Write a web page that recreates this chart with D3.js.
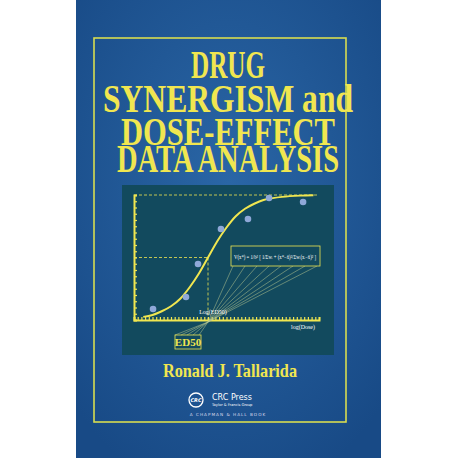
<!DOCTYPE html><html><head><meta charset="utf-8"><script src="https://cdn.jsdelivr.net/npm/d3@7"></script>
<style>body{margin:0;background:#fff}</style></head><body><svg id="s" width="458" height="458"></svg><script>
const titleLines=["DRUG","SYNERGISM and","DOSE-EFFECT","DATA ANALYSIS"];
const pointsX=[1.03,2.81,3.46,4.70,6.16,7.30,9.14];
const pointsY=[8.8,18.4,44.8,72.8,80.8,97.6,94.4];
const curveX=[0.5,1,1.5,2,2.5,3,3.5,4,4.5,5,5.5,6,6.5,7,7.5,8,9,9.7];
const curveY=[2.5,4,7,11,17,26,37,50,63,74,83,89,93,96,97.5,98.5,99.5,99.8];
const ed50=4.0;
const svg=d3.select("#s");
const defs=svg.append("defs");
const g=defs.append("radialGradient").attr("id","bg").attr("cx","50%").attr("cy","40%").attr("r","70%");
g.append("stop").attr("offset","0").attr("stop-color","#2a66a6");
g.append("stop").attr("offset","1").attr("stop-color","#184a86");
svg.append("rect").attr("x",76).attr("y",0).attr("width",305).attr("height",458).attr("fill","url(#bg)");
const Y="#f0e650";
svg.append("rect").attr("x",94).attr("y",38).attr("width",252).attr("height",384).attr("fill","none").attr("stroke","#d8dc50").attr("stroke-width",1.6);
const ty=[78,112,145,172],tw=[74,250,214,222];
titleLines.forEach((t,i)=>svg.append("text").attr("transform",`translate(228,${ty[i]}) scale(1,1.3)`).attr("text-anchor","middle").attr("font-family","Liberation Serif").attr("font-weight","bold").attr("font-size",30).attr("fill",Y).attr("textLength",tw[i]).attr("lengthAdjust","spacingAndGlyphs").text(t));
svg.append("rect").attr("x",122).attr("y",185).attr("width",212).attr("height",170).attr("fill","#124a5e");
const x=d3.scaleLinear().domain([0,10]).range([134,319]);
const y=d3.scaleLinear().domain([0,100]).range([320,195]);
svg.append("g").attr("transform","translate(0,320)").call(d3.axisBottom(x).ticks(40).tickSize(-3).tickFormat("")).call(a=>{a.selectAll("line,path").attr("stroke",Y).attr("stroke-width",1.2);a.select("path").attr("stroke-width",2)});
svg.append("g").attr("transform","translate(134,0)").call(d3.axisLeft(y).ticks(25).tickSize(-3).tickFormat("")).call(a=>{a.selectAll("line,path").attr("stroke",Y).attr("stroke-width",1.2);a.select("path").attr("stroke-width",2)});
const dash=(x1,y1,x2,y2)=>svg.append("line").attr("x1",x1).attr("y1",y1).attr("x2",x2).attr("y2",y2).attr("stroke",Y).attr("stroke-width",0.8).attr("stroke-dasharray","3,2");
dash(x(0),y(100),x(10),y(100));dash(x(0),y(50),x(ed50),y(50));dash(x(ed50),y(50),x(ed50),y(0));
svg.append("path").datum(curveX.map((v,i)=>[v,curveY[i]])).attr("d",d3.line().x(d=>x(d[0])).y(d=>y(d[1])).curve(d3.curveMonotoneX)).attr("fill","none").attr("stroke",Y).attr("stroke-width",2);
svg.selectAll(".p").data(pointsX).enter().append("circle").attr("cx",d=>x(d)).attr("cy",(d,i)=>y(pointsY[i])).attr("r",3.3).attr("fill","#8fa8d8");
const cx=x(ed50),cy=322;
for(let i=0;i<8;i++){svg.append("line").attr("x1",cx).attr("y1",cy).attr("x2",233+i*12).attr("y2",266).attr("stroke","#b8c890").attr("stroke-width",0.5);}
for(let i=0;i<5;i++){svg.append("line").attr("x1",cx).attr("y1",cy).attr("x2",175+i*6).attr("y2",335).attr("stroke","#b8c890").attr("stroke-width",0.5);}
svg.append("rect").attr("x",231).attr("y",246).attr("width",89).attr("height",20).attr("fill","#124a5e").attr("stroke",Y).attr("stroke-width",0.8);
svg.append("text").attr("x",275).attr("y",259).attr("text-anchor","middle").attr("font-family","Liberation Serif").attr("font-size",6).attr("fill","#fff").attr("textLength",82).attr("lengthAdjust","spacingAndGlyphs").text("V(x*) = 1/b² [ 1/Σwᵢ + (x*−x̄)²/Σwᵢ(xᵢ−x̄)² ]");
svg.append("text").attr("x",213).attr("y",314).attr("text-anchor","middle").attr("font-family","Liberation Serif").attr("font-size",6).attr("fill","#fff").text("Log(ED50)");
svg.append("text").attr("x",303).attr("y",329).attr("text-anchor","middle").attr("font-family","Liberation Serif").attr("font-size",6).attr("fill","#fff").text("log(Dose)");
svg.append("rect").attr("x",175).attr("y",335).attr("width",26).attr("height",14).attr("fill","none").attr("stroke",Y).attr("stroke-width",0.8);
svg.append("text").attr("x",188).attr("y",346).attr("text-anchor","middle").attr("font-family","Liberation Serif").attr("font-weight","bold").attr("font-size",11).attr("fill",Y).text("ED50");
svg.append("text").attr("x",230).attr("y",377).attr("text-anchor","middle").attr("font-family","Liberation Serif").attr("font-weight","bold").attr("font-size",19).attr("fill",Y).attr("textLength",134).attr("lengthAdjust","spacingAndGlyphs").text("Ronald J. Tallarida");
svg.append("circle").attr("cx",196).attr("cy",400).attr("r",7).attr("fill","none").attr("stroke","#fff").attr("stroke-width",1.3);
svg.append("text").attr("x",196).attr("y",402).attr("text-anchor","middle").attr("font-family","DejaVu Sans").attr("font-style","italic").attr("font-weight","bold").attr("font-size",5).attr("fill","#fff").text("CRC");
svg.append("text").attr("x",212).attr("y",400).attr("font-family","DejaVu Sans").attr("font-size",8).attr("fill","#fff").text("CRC Press");
svg.append("text").attr("x",212).attr("y",406).attr("font-family","DejaVu Sans").attr("font-size",3.6).attr("fill","#fff").text("Taylor & Francis Group");
svg.append("text").attr("x",228).attr("y",416).attr("text-anchor","middle").attr("font-family","DejaVu Sans").attr("font-size",4.2).attr("letter-spacing",1).attr("fill","#dde").text("A CHAPMAN & HALL BOOK");
</script></body></html>
